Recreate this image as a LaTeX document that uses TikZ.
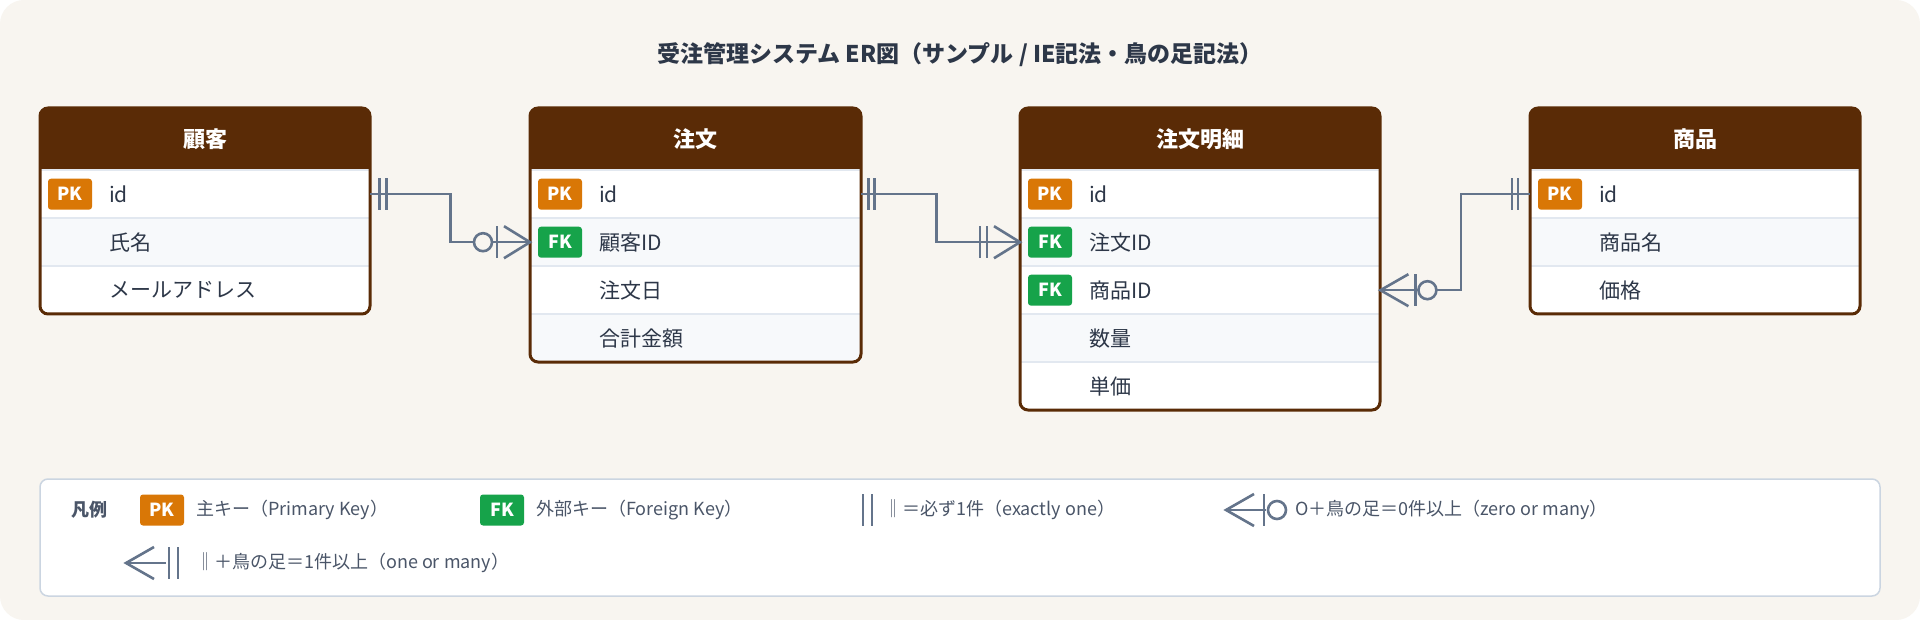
\documentclass[tikz,border=0pt]{standalone}
\usepackage{fontspec}
\setmainfont{Noto Sans CJK JP}
\usetikzlibrary{positioning}

\definecolor{bgc}{HTML}{F8F5F0}
\definecolor{hdr}{HTML}{5A2B06}
\definecolor{pkc}{HTML}{D97706}
\definecolor{fkc}{HTML}{16A34A}
\definecolor{relc}{HTML}{64748B}
\definecolor{txt}{HTML}{2D3748}
\definecolor{rowalt}{HTML}{F7F9FB}
\definecolor{sepc}{HTML}{E2E8F0}
\definecolor{lgb}{HTML}{CBD5E1}
\definecolor{lgt}{HTML}{4A5568}

% entity: name, x, width, title, rows, fields
\newcommand\entity[6]{%
	\pgfmathsetmacro\ebot{170+48*#5}
	\fill[white,rounded corners=8] (#2,108) rectangle ({#2+#3},\ebot);
	\node[ehead,minimum width=#3,anchor=north west] (#1) at (#2,108) {};
	\fill[hdr] (#2,160) rectangle ({#2+#3},170);
	\node[htext] at (#1.center) {#4};
	\foreach \k/\f [count=\i] in {#6} {
		\ifodd\i\def\rf{white}\else\def\rf{rowalt}\fi
		\node[erow,fill=\rf,minimum width=#3,anchor=north west] (#1-\i) at (#2,{122+48*\i}) {};
		\draw[sep] (#1-\i.north west) -- (#1-\i.north east);
		\node (#1-\i-k) at ([xshift=30]#1-\i.west) [\k];
		\node[etext] (#1-\i-t) at ([xshift=69]#1-\i.west) {\f};
	}
	\draw[eframe] (#2,108) rectangle ({#2+#3},\ebot);
}

\begin{document}
\begin{tikzpicture}[x=1pt,y=-1pt]

	\tikzset{
		ehead/.style={rectangle,fill=hdr,rounded corners=8,minimum height=62,inner sep=0},
		htext/.style={text=white,font=\fontsize{22}{26}\selectfont\bfseries},
		erow/.style={rectangle,draw=none,minimum height=48,inner sep=0},
		etext/.style={anchor=west,text=txt,font=\fontsize{21}{25}\selectfont,inner sep=0},
		sep/.style={draw=sepc,line width=1.5},
		eframe/.style={draw=hdr,line width=3,rounded corners=8},
		badge/.style={rectangle,rounded corners=3,minimum width=44,minimum height=31,inner sep=0,
			text=white,font=\fontsize{18}{20}\selectfont\bfseries},
		PK/.style={badge,fill=pkc,node contents=PK},
		FK/.style={badge,fill=fkc,node contents=FK},
		NN/.style={inner sep=0,node contents={}},
		rel/.style={draw=relc,line width=2.6},
		zero/.style={rel,fill=bgc},
		ltext/.style={anchor=west,text=lgt,font=\fontsize{18}{22}\selectfont,inner sep=0}
	}

	\useasboundingbox (0,0) rectangle (1920,620);
	\fill[white] (0,0) rectangle (1920,620);
	\fill[bgc,rounded corners=24] (0,0) rectangle (1920,620);

	\node[text=txt,font=\fontsize{23}{28}\selectfont\bfseries] (title) at (960,55)
		{受注管理システム ER図（サンプル / IE記法・鳥の足記法）};

	\entity{c}{40}{330}{顧客}{3}{PK/id,NN/氏名,NN/メールアドレス}
	\entity{o}{530}{331}{注文}{4}{PK/id,FK/顧客ID,NN/注文日,NN/合計金額}
	\entity{d}{1020}{360}{注文明細}{5}{PK/id,FK/注文ID,FK/商品ID,NN/数量,NN/単価}
	\entity{p}{1530}{330}{商品}{3}{PK/id,NN/商品名,NN/価格}

	% customer -> order
	\draw[rel]	(c-1.east) -- ++(80,0) |- (o-2.west);
	\draw[rel]	([shift={(9,-16)}]c-1.east) -- ++(0,32);
	\draw[rel]	([shift={(16,-16)}]c-1.east) -- ++(0,32);
	\draw[rel]	([shift={(-26,-16)}]o-2.west) -- (o-2.west) -- ([shift={(-26,16)}]o-2.west);
	\draw[rel]	([shift={(-33,-16)}]o-2.west) -- ++(0,32);
	\draw[zero]	([xshift=-47]o-2.west) circle (9);

	% order -> detail
	\draw[rel]	(o-1.east) -- ++(75,0) |- (d-2.west);
	\draw[rel]	([shift={(7,-16)}]o-1.east) -- ++(0,32);
	\draw[rel]	([shift={(13,-16)}]o-1.east) -- ++(0,32);
	\draw[rel]	([shift={(-26,-16)}]d-2.west) -- (d-2.west) -- ([shift={(-26,16)}]d-2.west);
	\draw[rel]	([shift={(-33,-16)}]d-2.west) -- ++(0,32);
	\draw[rel]	([shift={(-40,-16)}]d-2.west) -- ++(0,32);

	% product -> detail
	\draw[rel]	(p-1.west) -- ++(-69,0) |- (d-3.east);
	\draw[rel]	([shift={(-12,-16)}]p-1.west) -- ++(0,32);
	\draw[rel]	([shift={(-18,-16)}]p-1.west) -- ++(0,32);
	\draw[rel]	([shift={(28,-16)}]d-3.east) -- (d-3.east) -- ([shift={(28,16)}]d-3.east);
	\draw[rel]	([shift={(35,-16)}]d-3.east) -- ++(0,32);
	\draw[zero]	([xshift=47]d-3.east) circle (9);

	% legend
	\draw[draw=lgb,fill=white,line width=1.5,rounded corners=8] (40,479) rectangle (1880,596);
	\node[ltext,font=\fontsize{18}{22}\selectfont\bfseries] (lg) at (71,510) {凡例};
	\node (lg-pk) at (162,510) [PK];
	\node[ltext] (lg-pkt) at (196,510) {主キー（Primary Key）};
	\node (lg-fk) at (502,510) [FK];
	\node[ltext] (lg-fkt) at (536,510) {外部キー（Foreign Key）};
	\coordinate (lg-one) at (863,510);
	\draw[rel]	([shift={(0,-16)}]lg-one) -- ++(0,32);
	\draw[rel]	([shift={(9,-16)}]lg-one) -- ++(0,32);
	\node[ltext] (lg-onet) at (884,510) {‖＝必ず1件（exactly one）};
	\coordinate (lg-zm) at (1226,510);
	\draw[rel]	([shift={(28,-16)}]lg-zm) -- (lg-zm) -- ([shift={(28,16)}]lg-zm);
	\draw[rel]	(lg-zm) -- ++(40,0);
	\draw[rel]	([shift={(38,-16)}]lg-zm) -- ++(0,32);
	\draw[zero,fill=white]	([xshift=51]lg-zm) circle (9);
	\node[ltext] (lg-zmt) at (1295,510) {O＋鳥の足＝0件以上（zero or many）};
	\coordinate (lg-om) at (126,563);
	\draw[rel]	([shift={(28,-16)}]lg-om) -- (lg-om) -- ([shift={(28,16)}]lg-om);
	\draw[rel]	(lg-om) -- ++(40,0);
	\draw[rel]	([shift={(43,-16)}]lg-om) -- ++(0,32);
	\draw[rel]	([shift={(52,-16)}]lg-om) -- ++(0,32);
	\node[ltext] (lg-omt) at (196,563) {‖＋鳥の足＝1件以上（one or many）};

\end{tikzpicture}
\end{document}
